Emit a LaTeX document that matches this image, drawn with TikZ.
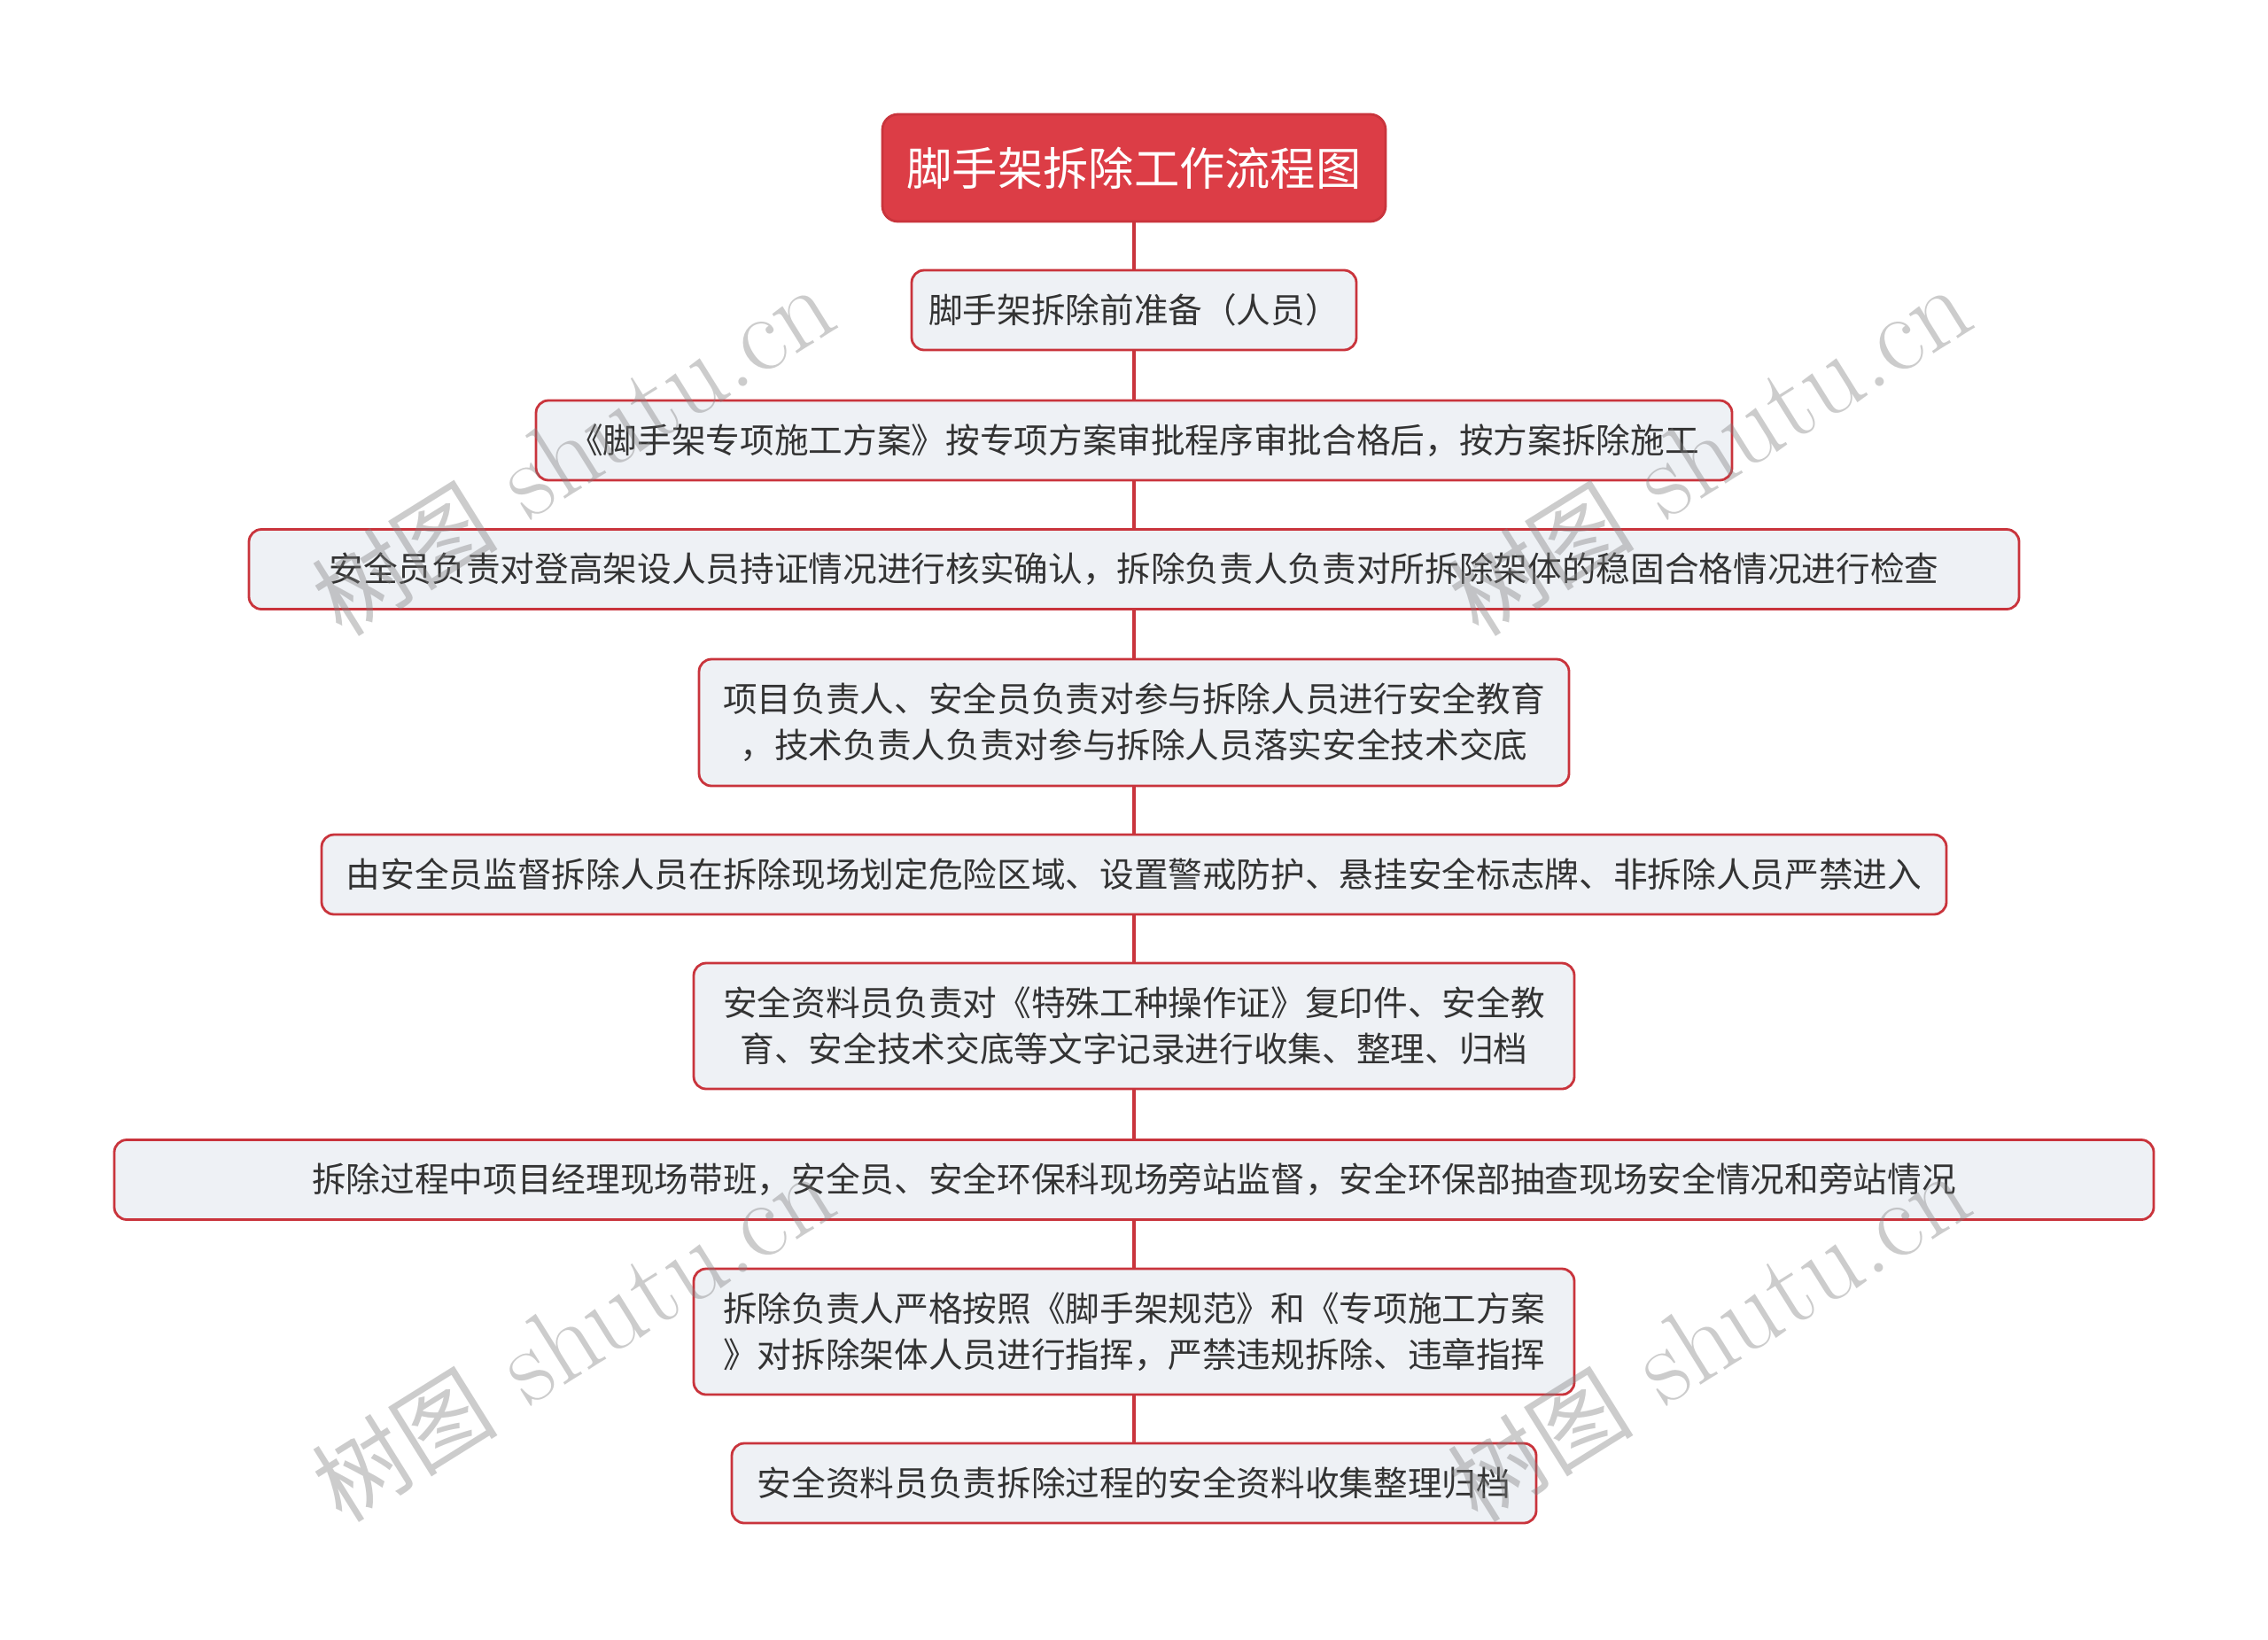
\documentclass[tikz,border=0pt]{standalone}
\usepackage{fontspec}
\newfontfamily\cjk{Noto Sans CJK SC}
\usetikzlibrary{positioning}
\definecolor{linered}{HTML}{C9343C}
\definecolor{titlered}{HTML}{DC3D46}
\definecolor{boxfill}{HTML}{EEF1F5}
\definecolor{textgray}{HTML}{333333}

\tikzset{
  stepbox/.style={draw=linered, line width=0.8pt, fill=boxfill, rounded corners=4pt,
    minimum height=0.9cm, inner sep=0pt, align=center, text=textgray,
    font=\cjk\fontsize{11pt}{14.8pt}\selectfont},
  titlebox/.style={draw=linered, line width=0.8pt, fill=titlered, rounded corners=5pt,
    minimum height=1.21cm, minimum width=5.68cm, inner sep=0pt, text=white,
    font=\cjk\fontsize{14.6pt}{17pt}\selectfont},
  link/.style={draw=linered, line width=1.2pt},
  watermark/.style={rotate=32, text=black!50, text opacity=0.4,
    font=\fontsize{35pt}{35pt}\selectfont}
}

\begin{document}
\begin{tikzpicture}
  \useasboundingbox (0,0) rectangle (25.6,-18.5);

  \node[titlebox] (title) at (12.8,-1.895) {脚手架拆除工作流程图};
  \node[stepbox, minimum width=5.02cm] (s1) at (12.8,-3.50) {脚手架拆除前准备（人员）};
  \node[stepbox, minimum width=13.5cm] (s2) at (12.8,-4.97) {《脚手架专项施工方案》按专项方案审批程序审批合格后，按方案拆除施工};
  \node[stepbox, minimum width=19.98cm] (s3) at (12.8,-6.425) {安全员负责对登高架设人员持证情况进行核实确认，拆除负责人负责对所拆除架体的稳固合格情况进行检查};
  \node[stepbox, minimum width=9.82cm, minimum height=1.43cm] (s4) at (12.8,-8.155) {项目负责人、安全员负责对参与拆除人员进行安全教育\\，技术负责人负责对参与拆除人员落实安全技术交底};
  \node[stepbox, minimum width=18.34cm] (s5) at (12.8,-9.87) {由安全员监督拆除人员在拆除现场划定危险区域、设置警戒防护、悬挂安全标志牌、非拆除人员严禁进入};
  \node[stepbox, minimum width=9.94cm, minimum height=1.42cm] (s6) at (12.8,-11.58) {安全资料员负责对《特殊工种操作证》复印件、安全教\\育、安全技术交底等文字记录进行收集、整理、归档};
  \node[stepbox, minimum width=23.02cm] (s7) at (12.8,-13.315) {拆除过程中项目经理现场带班，安全员、安全环保科现场旁站监督，安全环保部抽查现场安全情况和旁站情况};
  \node[stepbox, minimum width=9.94cm, minimum height=1.42cm] (s8) at (12.8,-15.03) {拆除负责人严格按照《脚手架规范》和《专项施工方案\\》对拆除架体人员进行指挥，严禁违规拆除、违章指挥};
  \node[stepbox, minimum width=9.08cm] (s9) at (12.8,-16.74) {安全资料员负责拆除过程的安全资料收集整理归档};

  % links
  \draw[link] (title) -- (s1);
  \foreach \a/\b in {s1/s2,s2/s3,s3/s4,s4/s5,s5/s6,s6/s7,s7/s8,s8/s9}
    \draw[link] (\a) -- (\b);

  % watermarks
  \node[watermark] (wm1) at (6.47,-5.10) {{\cjk\fontsize{30pt}{30pt}\selectfont 树图} shutu.cn};
  \node[watermark] (wm2) at (19.30,-5.10) {{\cjk\fontsize{30pt}{30pt}\selectfont 树图} shutu.cn};
  \node[watermark] (wm3) at (6.47,-15.10) {{\cjk\fontsize{30pt}{30pt}\selectfont 树图} shutu.cn};
  \node[watermark] (wm4) at (19.29,-15.10) {{\cjk\fontsize{30pt}{30pt}\selectfont 树图} shutu.cn};
\end{tikzpicture}
\end{document}
